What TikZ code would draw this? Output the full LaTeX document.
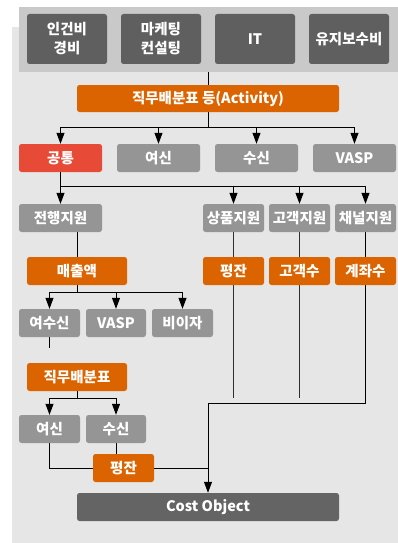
\documentclass[tikz,border=0pt]{standalone}
\usepackage{fontspec}
\setmainfont{Noto Sans CJK KR}
\usetikzlibrary{arrows.meta}
\pgfdeclarelayer{back}
\pgfdeclarelayer{lines}
\pgfsetlayers{back,lines,main}
\definecolor{bgc}{HTML}{E6E6E6}
\definecolor{barc}{HTML}{C9C9C9}
\definecolor{darkc}{HTML}{5F5F5F}
\definecolor{greyc}{HTML}{959595}
\definecolor{orc}{HTML}{DC6400}
\definecolor{redc}{HTML}{E84A38}
\definecolor{cobj}{HTML}{646464}
\definecolor{linec}{HTML}{2E2E2E}
\tikzset{
  box/.style={rounded corners=2.5pt, inner sep=0pt, text=white,
    font=\fontsize{14.5}{17}\selectfont\bfseries, align=center, minimum height=28pt},
  dbox/.style={box, fill=darkc, minimum width=80pt, minimum height=50pt},
  gbox/.style={box, fill=greyc},
  obox/.style={box, fill=orc},
  rbox/.style={box, fill=redc},
  conn/.style={draw=black, line width=1pt},
  arr/.style={conn, -{Triangle[width=8pt,length=11pt]}},
  plain/.style={draw=linec, line width=1pt}
}
\begin{document}
\begin{tikzpicture}[x=1pt,y=-1pt]
\useasboundingbox (0,0) rectangle (398,543);
\begin{pgfonlayer}{back}
  \fill[bgc] (12,27) rectangle (398,543);
  \fill[barc] (19,7) rectangle (398,72);
\end{pgfonlayer}
% top cost boxes
\node[dbox] (c1) at (67,39) {인건비\\[2pt]경비};
\node[dbox] (c2) at (161,39) {마케팅\\[2pt]컨설팅};
\node[dbox] (c3) at (255,39) {IT};
\node[dbox] (c4) at (349,39) {유지보수비};
\coordinate (barb) at (208,72);
% activity
\node[obox, minimum width=262pt, minimum height=27pt] (act) at (208,98.5) {직무배분표 등(Activity)};
% row 2
\node[rbox, minimum width=83pt] (gt) at (60.5,158) {공통};
\node[gbox, minimum width=83pt] (ys) at (158.5,158) {여신};
\node[gbox, minimum width=83pt] (ss) at (256.5,158) {수신};
\node[gbox, minimum width=83pt] (vasp) at (354.5,158) {VASP};
% row 3
\node[gbox, minimum width=83pt] (jh) at (60.5,218) {전행지원};
\node[gbox, minimum width=61pt] (sp) at (233.5,218) {상품지원};
\node[gbox, minimum width=61pt] (gg) at (299.5,218) {고객지원};
\node[gbox, minimum width=61pt] (cn) at (365.5,218) {채널지원};
% drivers
\node[obox, minimum width=100pt] (mc) at (77,271) {매출액};
\node[obox, minimum width=61pt] (pj) at (233.5,271) {평잔};
\node[obox, minimum width=61pt] (gs) at (299.5,271) {고객수};
\node[obox, minimum width=61pt] (gj) at (365.5,271) {계좌수};
% row 4
\node[gbox, minimum width=61pt] (ysn) at (49.5,323) {여수신};
\node[gbox, minimum width=60pt] (va2) at (116,323) {VASP};
\node[gbox, minimum width=61pt] (bij) at (182.5,323) {비이자};
% job allocation
\node[obox, minimum width=100pt] (jm) at (77,377) {직무배분표};
\node[gbox, minimum width=61pt] (ys2) at (49.5,429) {여신};
\node[gbox, minimum width=60pt] (ss2) at (116,429) {수신};
\node[obox, minimum width=61pt] (pj2) at (123.5,468) {평잔};
% cost object
\node[box, fill=cobj, minimum width=262pt] (co) at (208,507) {Cost Object};
\coordinate (stub) at (49.5,348);
\coordinate (endA) at (233.5,398);
\coordinate (endB) at (299.5,398);
\coordinate (turn) at (365.5,403);
\coordinate (join) at (208,403);
\begin{pgfonlayer}{lines}
  \draw[conn] (barb) -- (act.north);
  % act -> row 2
  \draw[conn] (act.south) -- (208,127);
  \draw[conn] (gt.north |- 0,127) -- (vasp.north |- 0,127);
  \foreach \n in {gt,ys,ss,vasp} \draw[arr] (\n.north |- 0,127) -- (\n.north);
  % common -> supports
  \draw[conn] (gt.south) -- (gt.south |- 0,186) -- (cn.north |- 0,186);
  \foreach \n in {jh,sp,gg,cn} \draw[arr] (\n.north |- 0,186) -- (\n.north);
  % 전행지원 -> 매출액
  \draw[conn] (mc.north |- jh.south) -- (mc.north);
  \draw[conn] (mc.south) -- (mc.south |- 0,292);
  \draw[conn] (ysn.north |- 0,292) -- (bij.north |- 0,292);
  \foreach \n in {ysn,va2,bij} \draw[arr] (\n.north |- 0,292) -- (\n.north);
  \draw[conn] (ysn.south) -- (stub);
  % 직무배분표 -> 여신/수신
  \draw[conn] (jm.south) -- (jm.south |- 0,398);
  \draw[conn] (ys2.north |- 0,398) -- (ss2.north |- 0,398);
  \foreach \n in {ys2,ss2} \draw[arr] (\n.north |- 0,398) -- (\n.north);
  \draw[conn] (ys2.south) |- (pj2.west);
  \draw[conn] (ss2.south) -- (ss2.south |- pj2.north);
  \draw[conn] (pj2.east) -- (pj2.east -| join);
  % right side lines
  \draw[plain] (sp.south) -- (endA);
  \draw[plain] (gg.south) -- (endB);
  \draw[conn] (cn.south) -- (turn) -- (join);
  \draw[arr] (join) -- (co.north);
\end{pgfonlayer}
\end{tikzpicture}
\end{document}
